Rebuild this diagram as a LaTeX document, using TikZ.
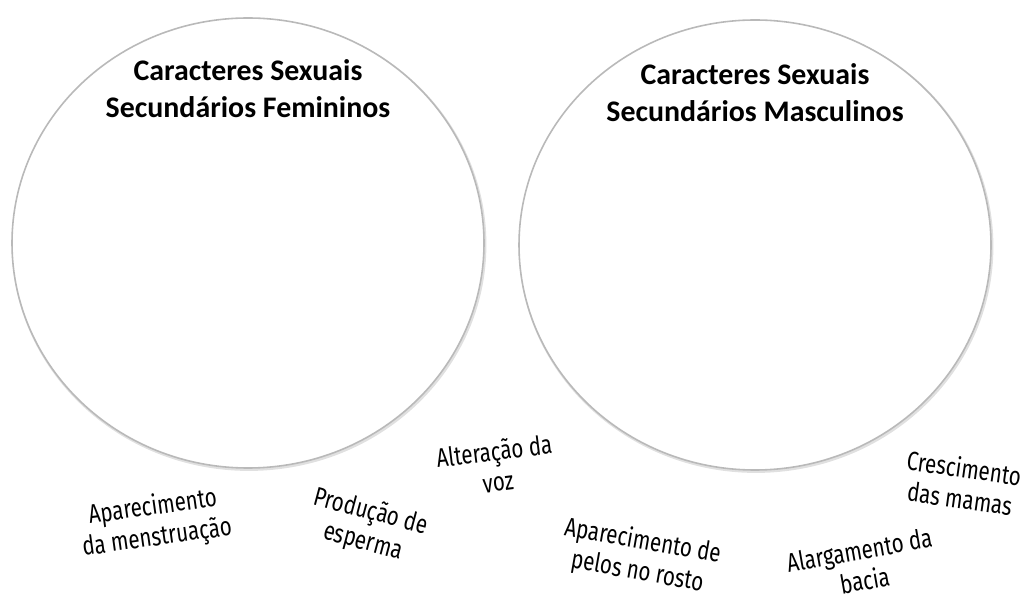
\documentclass[tikz,border=0pt]{standalone}
\usepackage{fontspec}
\newfontfamily\titlefont{Carlito}
\newfontfamily\handfont[FakeStretch=0.78]{Fira Sans}
\usetikzlibrary{positioning}

\begin{document}
\begin{tikzpicture}[
    titulo/.style={font=\titlefont\bfseries\fontsize{17}{21}\selectfont, align=center},
    rotulo/.style={font=\handfont\fontsize{15}{17.5}\selectfont, align=center, inner sep=1pt},
    circulo/.style={draw=gray!55, line width=0.9pt}
  ]
        % definições
        \def\Rx{4.72} % raio x dos círculos
        \def\Ry{4.5}  % raio y dos círculos

        \useasboundingbox (0,0) rectangle (20.68,11.98);

        % sombra e círculos
        \draw[black!12, line width=1.6pt] (4.98,7.09) ellipse ({\Rx} and {\Ry});
        \draw[black!12, line width=1.6pt] (15.12,7.05) ellipse ({\Rx} and {\Ry});
        \draw[circulo, fill=white] (4.96,7.12) ellipse ({\Rx} and {\Ry});
        \draw[circulo, fill=white] (15.10,7.08) ellipse ({\Rx} and {\Ry});

        % títulos
        \node[titulo] (fem) at (4.96,10.21) {Caracteres Sexuais\\Secundários Femininos};
        \node[titulo] (masc) at (15.10,10.12) {Caracteres Sexuais\\Secundários Masculinos};

        % características soltas
        \node[rotulo, rotate=8]   (menstr)  at (3.10,1.52)  {Aparecimento\\da menstruação};
        \node[rotulo, rotate=-15] (esperma) at (7.34,1.44)  {Produção de\\esperma};
        \node[rotulo, rotate=7]   (voz)     at (9.92,2.66)  {Alteração da\\voz};
        \node[rotulo, rotate=-10] (pelos)   at (12.80,0.84) {Aparecimento de\\pelos no rosto};
        \node[rotulo, rotate=10]  (bacia)   at (17.24,0.68) {Alargamento da\\bacia};
        \node[rotulo, rotate=-8]  (mamas)   at (19.24,2.32) {Crescimento\\das mamas};
\end{tikzpicture}
\end{document}
